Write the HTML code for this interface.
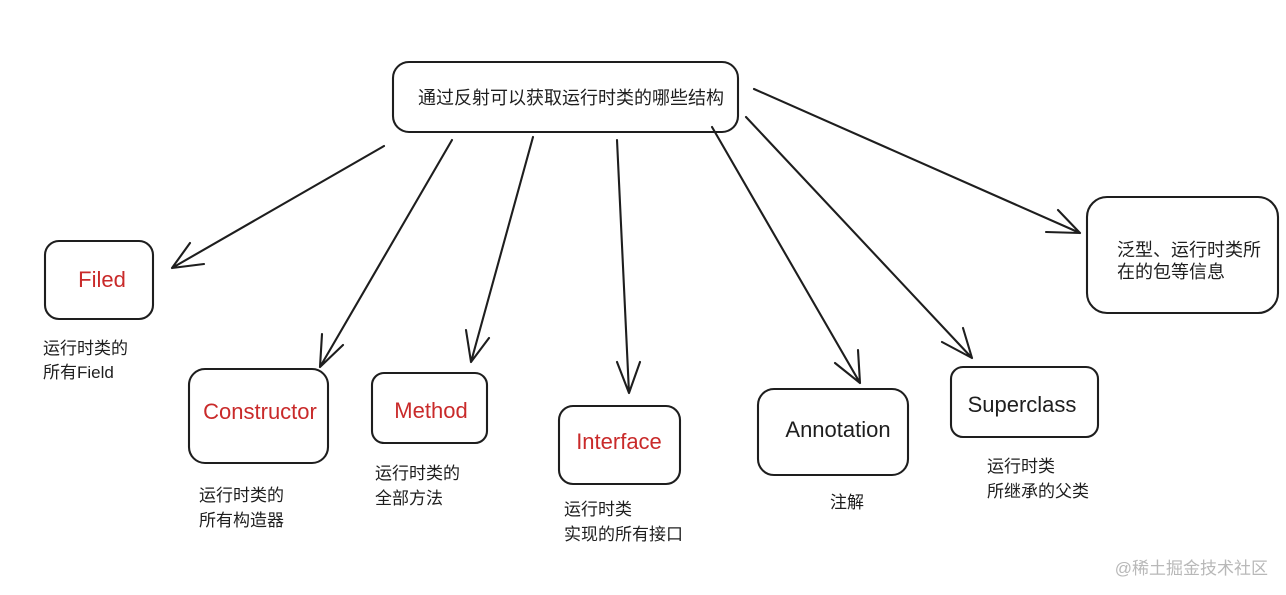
<!DOCTYPE html>
<html><head><meta charset="utf-8"><style>
html,body{margin:0;padding:0;background:#fff;}
svg{display:block;}
text{font-family:"Liberation Sans","Noto Sans CJK SC",sans-serif;}
</style></head><body>
<svg width="1286" height="595" viewBox="0 0 1286 595" xmlns="http://www.w3.org/2000/svg">
<g fill="none" stroke="#1e1e1e" stroke-width="2.1" stroke-linecap="round">
<rect x="393" y="62" width="345" height="70" rx="16"/>
<rect x="45" y="241" width="108" height="78" rx="14"/>
<rect x="189" y="369" width="139" height="94" rx="16"/>
<rect x="372" y="373" width="115" height="70" rx="12"/>
<rect x="559" y="406" width="121" height="78" rx="14"/>
<rect x="758" y="389" width="150" height="86" rx="16"/>
<rect x="951" y="367" width="147" height="70" rx="12"/>
<rect x="1087" y="197" width="191" height="116" rx="20"/>
<path d="M384 146 L172 268 M172 268 L204 264 M172 268 L190 243"/>
<path d="M452 140 L320 367 M320 367 L343 345 M320 367 L322 334"/>
<path d="M533 137 L471 362 M471 362 L489 338 M471 362 L466 330"/>
<path d="M617 140 L629 393 M629 393 L640 362 M629 393 L617 362"/>
<path d="M712 127 L860 383 M860 383 L858 350 M860 383 L835 363"/>
<path d="M746 117 L972 358 M972 358 L963 328 M972 358 L942 342"/>
<path d="M754 89 L1080 233 M1080 233 L1058 210 M1080 233 L1046 232"/>
</g>
<g font-size="17" fill="#1e1e1e">
<text x="418" y="104" font-size="18">通过反射可以获取运行时类的哪些结构</text>
<text x="1117" y="256" font-size="18">泛型、运行时类所</text>
<text x="1117" y="278" font-size="18">在的包等信息</text>
<text x="43" y="354">运行时类的</text>
<text x="43" y="378">所有Field</text>
<text x="199" y="501">运行时类的</text>
<text x="199" y="526">所有构造器</text>
<text x="375" y="479">运行时类的</text>
<text x="375" y="504">全部方法</text>
<text x="564" y="515">运行时类</text>
<text x="564" y="540">实现的所有接口</text>
<text x="830" y="508">注解</text>
<text x="987" y="472">运行时类</text>
<text x="987" y="497">所继承的父类</text>
</g>
<g font-size="22" text-anchor="middle">
<text x="102" y="287" fill="#c92a2a">Filed</text>
<text x="260" y="419" fill="#c92a2a">Constructor</text>
<text x="431" y="418" fill="#c92a2a">Method</text>
<text x="619" y="449" fill="#c92a2a">Interface</text>
<text x="838" y="437" fill="#1e1e1e">Annotation</text>
<text x="1022" y="412" fill="#1e1e1e">Superclass</text>
</g>
<text x="1268" y="574" font-size="17" fill="#b8b8b8" text-anchor="end">@稀土掘金技术社区</text>
</svg>
</body></html>
